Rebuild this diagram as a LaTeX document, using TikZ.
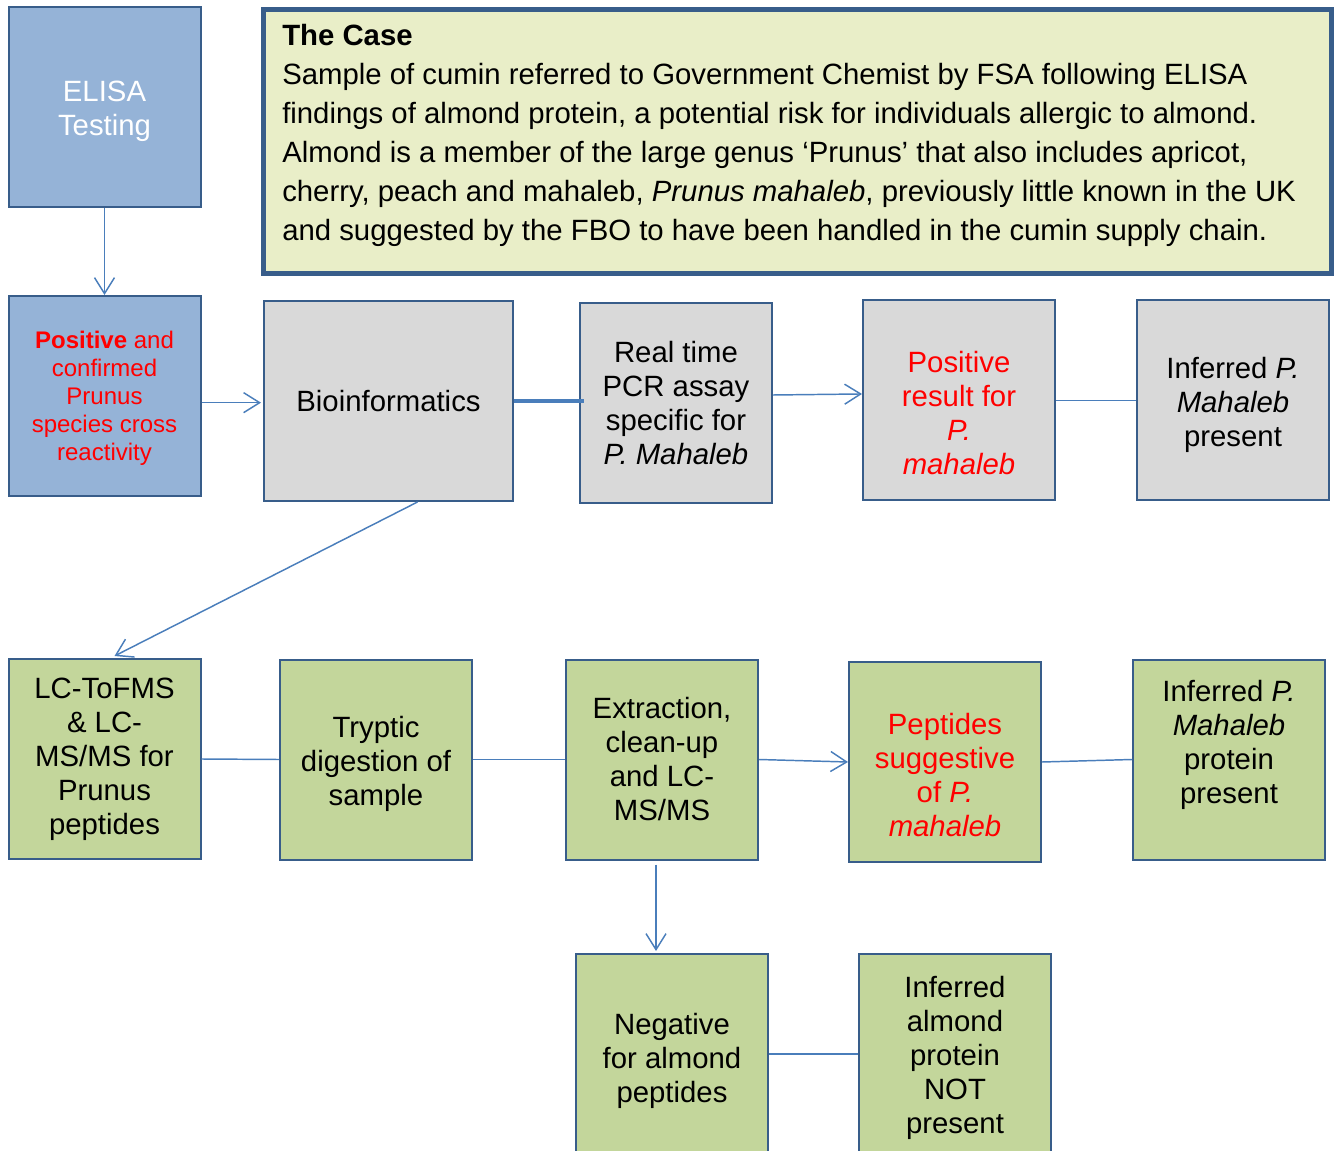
\documentclass[tikz,border=0pt]{standalone}
\usepackage{fontspec}
\setmainfont{Liberation Sans}
\usetikzlibrary{arrows.meta}

\definecolor{boxline}{RGB}{56,93,138}
\definecolor{linkblue}{RGB}{74,126,187}
\definecolor{elisablue}{RGB}{149,179,215}
\definecolor{bioGray}{RGB}{217,217,217}
\definecolor{peptGreen}{RGB}{195,214,155}
\definecolor{caseFill}{RGB}{233,238,200}
\definecolor{alertred}{RGB}{255,0,0}

\begin{document}
\begin{tikzpicture}[x=0.75pt,y=0.75pt,yscale=-1,xscale=1,
  flowbox/.style={draw=boxline,line width=1.5pt,minimum width=144pt,minimum height=150pt,
    inner sep=2pt,align=center,font=\fontsize{22}{25.5}\selectfont},
  bluebox/.style={flowbox,fill=elisablue},
  graybox/.style={flowbox,fill=bioGray},
  greenbox/.style={flowbox,fill=peptGreen},
  link/.style={draw=linkblue,line width=1.1pt},
  linkarrow/.style={link,-{Straight Barb[length=12pt,width=15pt]}}]
%uncomment if require: \path (0,1151); %diagram is 1335 wide and 1151 high
\useasboundingbox (0,0) rectangle (1335,1151);

%Shape: Rectangle - the case
\node (case) [draw=boxline,line width=3.5pt,fill=caseFill,minimum width=801pt,minimum height=198pt,anchor=north west] at (261,7) {};
% Text Node
\node (casetext) [anchor=north west,inner sep=0pt,align=left,font=\fontsize{22}{29.25}\selectfont] at (282,24)
  {\textbf{The Case}\\
   Sample of cumin referred to Government Chemist by FSA following ELISA\\
   findings of almond protein, a potential risk for individuals allergic to almond.\\
   Almond is a member of the large genus `Prunus' that also includes apricot,\\
   cherry, peach and mahaleb, \textit{Prunus mahaleb}, previously little known in the UK\\
   and suggested by the FBO to have been handled in the cumin supply chain.};

%Shape: Rectangle - first column
\node (elisa) [bluebox,text=white] at (104.5,107) {\rule{0pt}{22pt}ELISA\\Testing};
\node (pos) [bluebox,text=alertred,font=\fontsize{18}{21}\selectfont] at (104.5,396)
  {\rule{0pt}{17pt}\textbf{Positive} and\\confirmed\\Prunus\\species cross\\reactivity};

%Shape: Rectangle - gray row
\node (bio) [graybox,minimum width=186.75pt] at (388.5,401) {Bioinformatics};
\node (pcr) [graybox] at (676,403) {Real time\\PCR assay\\specific for\\\textit{P. Mahaleb}};
\node (posres) [graybox,text=alertred] at (959,400.5) {\rule{0pt}{35pt}Positive\\result for\\\textit{P.}\\\textit{mahaleb}};
\node (infone) [graybox] at (1233,400.5) {\rule{0pt}{22pt}Inferred \textit{P.}\\\textit{Mahaleb}\\present};

%Shape: Rectangle - green row
\node (lcms) [greenbox] at (104.5,759) {LC-ToFMS\\\& LC-\\MS/MS for\\Prunus\\peptides};
\node (tryp) [greenbox] at (376,759.5) {\rule{0pt}{22pt}Tryptic\\digestion of\\sample};
\node (extr) [greenbox] at (662,759.5) {Extraction,\\clean-up\\and LC-\\MS/MS};
\node (pept) [greenbox,text=alertred] at (945,762) {\rule{0pt}{35pt}Peptides\\suggestive\\of \textit{P.}\\\textit{mahaleb}};
\node (inftwo) [greenbox] at (1229,759.5) {Inferred \textit{P.}\\\textit{Mahaleb}\\protein\\present\rule[-26pt]{0pt}{26pt}};

%Shape: Rectangle - bottom row
\node (neg) [greenbox] at (672,1054) {\rule{0pt}{26pt}Negative\\for almond\\peptides};
\node (notp) [greenbox] at (955,1054) {\rule{0pt}{22pt}Inferred\\almond\\protein\\NOT\\present};

%Straight Lines
\draw [linkarrow] (elisa.south) -- (pos.north);
\draw [linkarrow] ([yshift=5pt]pos.east) -- ([xshift=-1.5pt,yshift=5pt]pos.east -| bio.west);
\draw [link,line width=2.4pt] (bio.east) -- ([xshift=3.75pt]bio.east -| pcr.west);
\draw [linkarrow] ([yshift=-6pt]pcr.east) -- ([yshift=-4.9pt]posres.west);
\draw [link] (posres.east) -- (infone.west);
\draw [linkarrow] ([xshift=21.75pt]bio.south) -- ([xshift=7.5pt,yshift=-1.5pt]lcms.north);
\draw [link] (lcms.east) -- (tryp.west);
\draw [link] (tryp.east) -- (extr.west);
\draw [linkarrow] (extr.east) -- (pept.west);
\draw [link] (pept.east) -- (inftwo.west);
\draw [linkarrow] ([xshift=-4.5pt,yshift=3pt]extr.south) -- ([xshift=-4.5pt,yshift=-1.5pt]extr.south |- neg.north);
\draw [link] (neg.east) -- (notp.west);

\end{tikzpicture}
\end{document}
